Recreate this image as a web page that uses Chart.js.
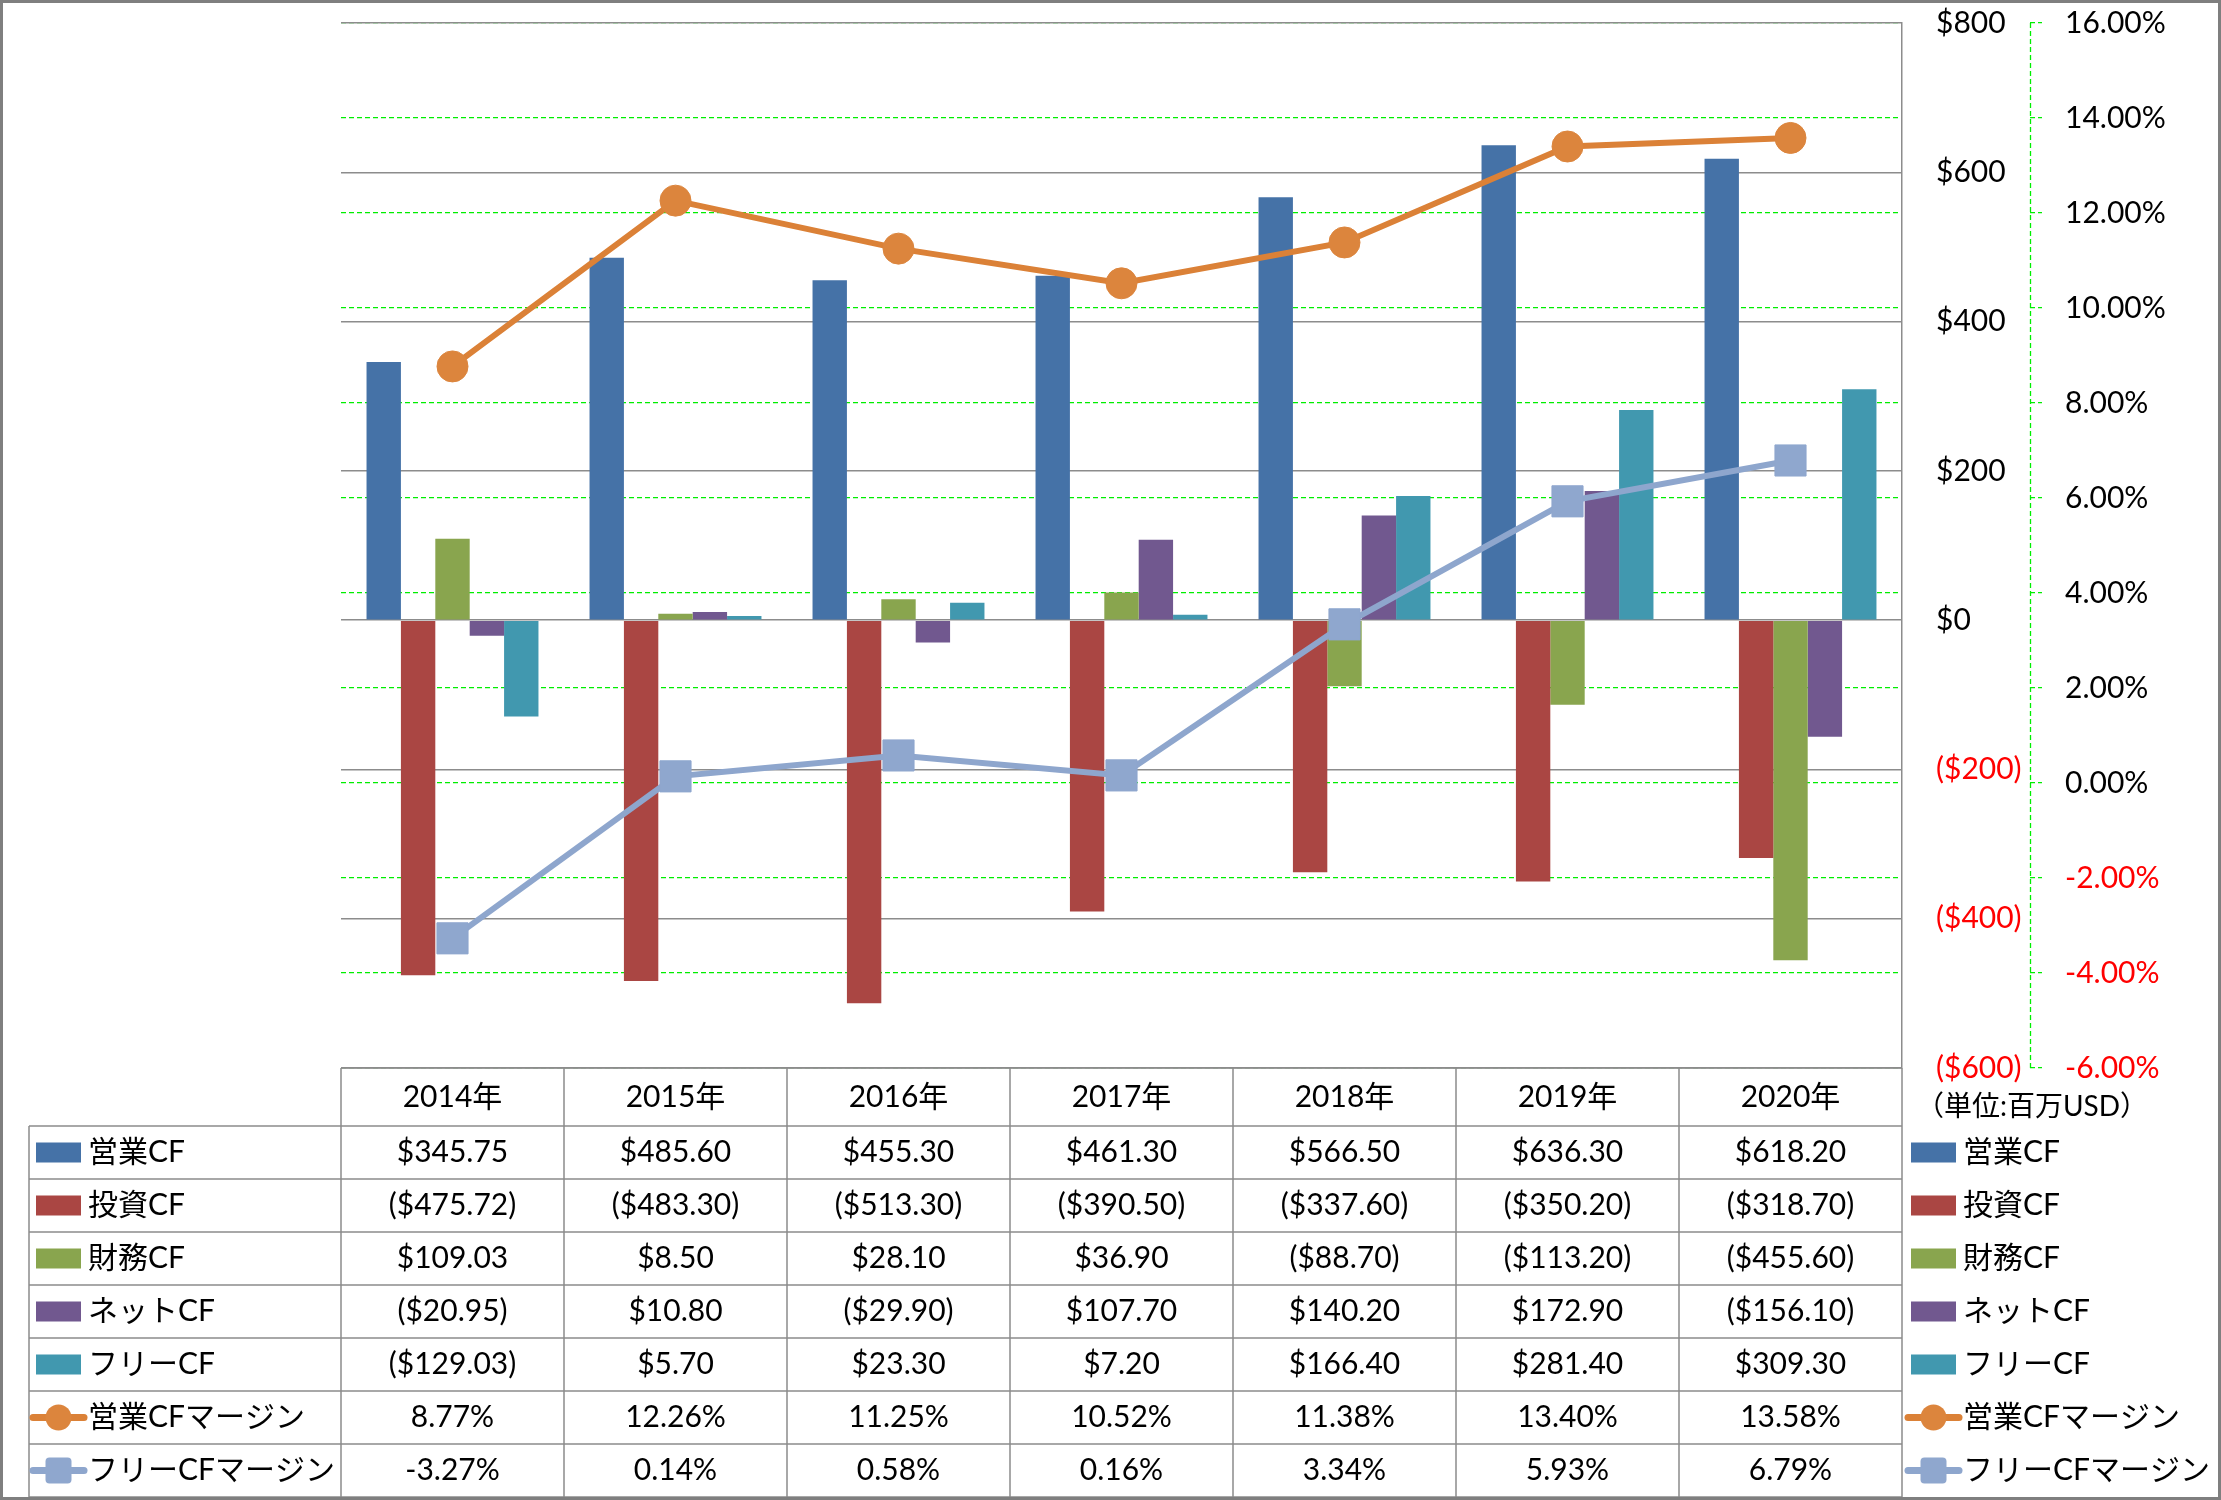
<!DOCTYPE html>
<html>
<head>
<meta charset="utf-8">
<script src="https://cdn.jsdelivr.net/npm/chart.js@4"></script>
<style>
  body { margin: 0; background: #fff; }
</style>
</head>
<body>
<canvas id="myChart" width="2221" height="1500"></canvas>
<script>
// categories and series (百万USD / %)
var years = ["2014年", "2015年", "2016年", "2017年", "2018年", "2019年", "2020年"];
var opCF = [345.75, 485.60, 455.30, 461.30, 566.50, 636.30, 618.20];
var invCF = [-475.72, -483.30, -513.30, -390.50, -337.60, -350.20, -318.70];
var finCF = [109.03, 8.50, 28.10, 36.90, -88.70, -113.20, -455.60];
var netCF = [-20.95, 10.80, -29.90, 107.70, 140.20, 172.90, -156.10];
var freeCF = [-129.03, 5.70, 23.30, 7.20, 166.40, 281.40, 309.30];
var opMargin = [8.77, 12.26, 11.25, 10.52, 11.38, 13.40, 13.58];
var freeMargin = [-3.27, 0.14, 0.58, 0.16, 3.34, 5.93, 6.79];
var unitLabel = "（単位:百万USD）";

var FONT = 'Lato, "Noto Sans CJK JP", sans-serif';
var gray = '#8c8c8c';
var green = '#00ee00';

Chart.defaults.font.family = FONT;
Chart.defaults.font.size = 30;
Chart.defaults.color = '#000';

function money(v) {
  return v < 0 ? '($' + (-v).toFixed(2) + ')' : '$' + v.toFixed(2);
}
function pct(v) {
  return v.toFixed(2) + '%';
}

// draws the legend key used in the table and on the right
function drawKey(ctx, ds, x0, x1, cy) {
  ctx.save();
  if (ds.type === 'line') {
    ctx.strokeStyle = ds.borderColor;
    ctx.lineWidth = 7;
    ctx.lineCap = 'round';
    ctx.beginPath();
    ctx.moveTo(x0, cy);
    ctx.lineTo(x1, cy);
    ctx.stroke();
    var mx = (x0 + x1) / 2;
    ctx.fillStyle = ds.pointBackgroundColor;
    ctx.beginPath();
    if (ds.pointStyle === 'circle') {
      ctx.arc(mx, cy, 13, 0, Math.PI * 2);
    } else {
      ctx.roundRect(mx - 13, cy - 13, 26, 26, 4);
    }
    ctx.fill();
  } else {
    ctx.fillStyle = ds.backgroundColor;
    ctx.fillRect(x0 + 3, cy - 10, x1 - x0 - 6, 20);
  }
  ctx.restore();
}

// keep tick label padding from pushing the plot area down
function fixAxis(width) {
  return function (s) {
    s.width = width;
    s.paddingTop = 0;
    s.paddingBottom = 0;
  };
}

var tablePlugin = {
  id: 'dataTable',
  beforeDraw: function (chart) {
    var ctx = chart.ctx;
    ctx.save();
    ctx.fillStyle = '#fff';
    ctx.fillRect(0, 0, chart.width, chart.height);
    ctx.restore();
  },
  afterDatasetsDraw: function (chart) {
    // dashed green line of the percent axis
    var s = chart.scales.y1;
    var ctx = chart.ctx;
    ctx.save();
    ctx.strokeStyle = green;
    ctx.lineWidth = 1.3;
    ctx.setLineDash([5, 3]);
    ctx.beginPath();
    ctx.moveTo(s.left + 0.5, chart.chartArea.top);
    ctx.lineTo(s.left + 0.5, chart.chartArea.bottom);
    ctx.stroke();
    ctx.restore();
  },
  afterDraw: function (chart) {
    var ctx = chart.ctx;
    var area = chart.chartArea;
    var xs = chart.scales.x;
    var n = years.length;
    var colW = (area.right - area.left) / n;
    var headTop = area.bottom;
    var headBot = headTop + 58;
    var rowH = 53;
    var sets = chart.data.datasets;
    var bottom = headBot + rowH * sets.length;
    var tableLeft = 29;

    ctx.save();
    ctx.strokeStyle = gray;
    ctx.lineWidth = 1.5;
    ctx.beginPath();
    // header row
    ctx.moveTo(area.left, headTop);
    ctx.lineTo(area.right, headTop);
    for (var i = 0; i <= n; i++) {
      var cx = area.left + colW * i;
      ctx.moveTo(cx, headTop);
      ctx.lineTo(cx, bottom);
    }
    ctx.moveTo(tableLeft, headBot);
    ctx.lineTo(tableLeft, bottom);
    for (var r = 0; r <= sets.length; r++) {
      var ry = headBot + rowH * r;
      ctx.moveTo(tableLeft, ry);
      ctx.lineTo(area.right, ry);
    }
    ctx.stroke();

    ctx.fillStyle = '#000';
    ctx.textBaseline = 'middle';
    ctx.textAlign = 'center';
    ctx.font = '30px ' + FONT;
    for (i = 0; i < n; i++) {
      ctx.fillText(years[i], xs.getPixelForValue(i), (headTop + headBot) / 2);
    }
    sets.forEach(function (ds, r) {
      var cy = headBot + rowH * r + rowH / 2;
      var fmt = ds.yAxisID === 'y1' ? pct : money;
      ctx.textAlign = 'center';
      ds.data.forEach(function (v, i) {
        ctx.fillText(fmt(v), xs.getPixelForValue(i), cy);
      });
      // row header
      drawKey(ctx, ds, 33, 84, cy);
      ctx.textAlign = 'left';
      ctx.fillText(ds.label, 88, cy);
      // legend on the right
      drawKey(ctx, ds, 1908, 1959, cy);
      ctx.fillText(ds.label, 1963, cy);
    });

    ctx.font = '28px ' + FONT;
    ctx.textAlign = 'left';
    ctx.fillText(unitLabel, 1916, 1107);

    // outer frame
    ctx.strokeStyle = '#7f7f7f';
    ctx.lineWidth = 3;
    ctx.strokeRect(1.5, 1.5, chart.width - 3, chart.height - 3);
    ctx.restore();
  }
};

var lineSet = function (label, data, color, fill, style, radius) {
  return {
    type: 'line',
    label: label,
    data: data,
    yAxisID: 'y1',
    order: 0,
    borderColor: color,
    borderWidth: 6,
    pointStyle: style,
    pointRadius: radius,
    pointBackgroundColor: fill,
    pointBorderColor: fill,
    pointBorderWidth: 1,
    tension: 0
  };
};

var barSet = function (label, data, color) {
  return {
    type: 'bar',
    label: label,
    data: data,
    yAxisID: 'y',
    order: 1,
    backgroundColor: color,
    categoryPercentage: 0.771,
    barPercentage: 1
  };
};

new Chart("myChart", {
  data: {
    labels: years,
    datasets: [
      barSet("営業CF", opCF, '#4572A7'),
      barSet("投資CF", invCF, '#AA4643'),
      barSet("財務CF", finCF, '#89A54E'),
      barSet("ネットCF", netCF, '#71588F'),
      barSet("フリーCF", freeCF, '#4198AF'),
      lineSet("営業CFマージン", opMargin, '#DB8137', '#DC853D', 'circle', 15.5),
      lineSet("フリーCFマージン", freeMargin, '#8EA6CD', '#8FA7CE', 'rect', 22)
    ]
  },
  options: {
    responsive: false,
    animation: false,
    devicePixelRatio: 1,
    layout: {
      padding: { left: 341, top: 22, bottom: 432, right: 0 }
    },
    plugins: {
      legend: { display: false },
      tooltip: { enabled: false }
    },
    scales: {
      x: { display: false, offset: true },
      y: {
        position: 'right',
        weight: 0,
        min: -600,
        max: 800,
        ticks: {
          stepSize: 200,
          padding: 34,
          color: function (c) { return c.tick && c.tick.value < 0 ? '#ff0000' : '#000'; },
          callback: function (v) { return v < 0 ? '($' + (-v) + ')' : '$' + v; }
        },
        grid: { color: gray, lineWidth: 1.5, drawTicks: false, z: -1 },
        border: { display: true, color: gray, width: 1.5 },
        afterFit: fixAxis(128)
      },
      y1: {
        position: 'right',
        weight: 1,
        min: -6,
        max: 16,
        ticks: {
          stepSize: 2,
          padding: 23,
          color: function (c) { return c.tick && c.tick.value < 0 ? '#ff0000' : '#000'; },
          callback: function (v) { return v.toFixed(2) + '%'; }
        },
        grid: {
          z: -2,
          color: green,
          lineWidth: 1.3,
          tickLength: 12,
          tickColor: green,
          tickWidth: 1.3,
          tickBorderDash: [5, 3]
        },
        border: { display: false, dash: [5, 3] },
        afterFit: fixAxis(2221 - 2030)
      }
    }
  },
  plugins: [tablePlugin]
});
</script>
</body>
</html>
